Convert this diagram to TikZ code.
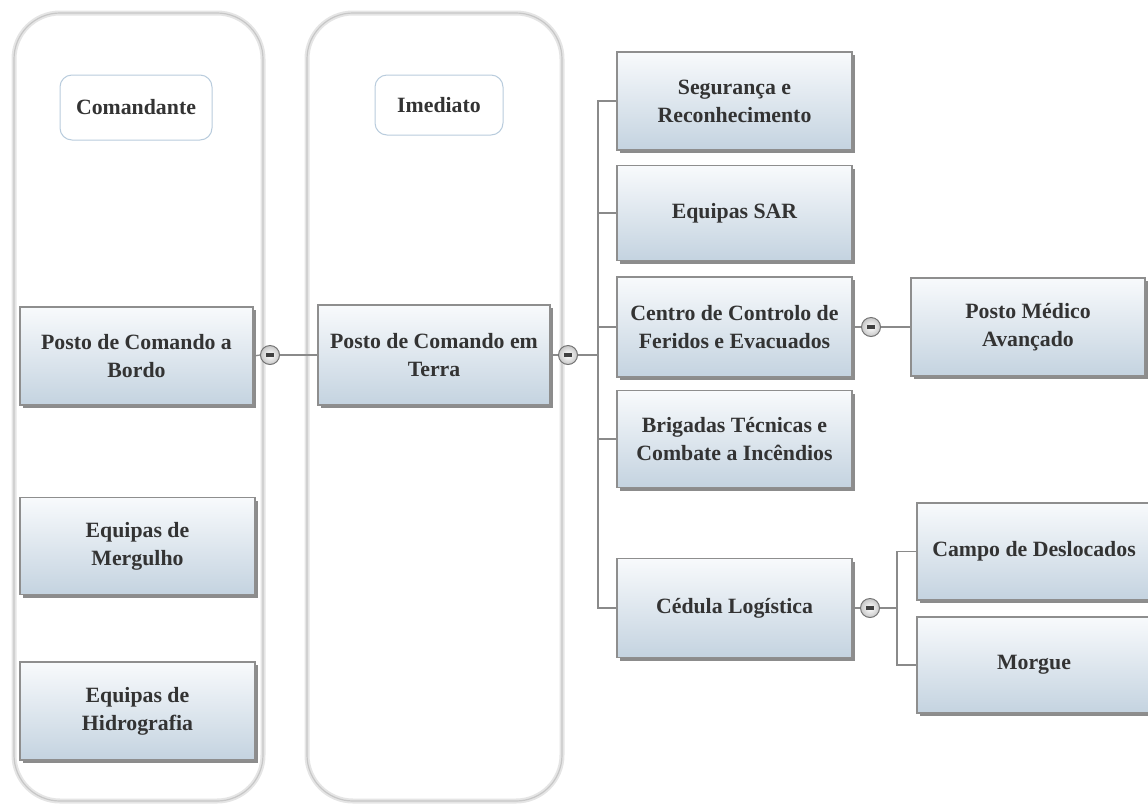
\documentclass[tikz,border=0pt]{standalone}
\usepackage{fontspec}
\setmainfont{Liberation Serif}
\usetikzlibrary{shadows}
\definecolor{txt}{HTML}{333333}
\definecolor{boxtop}{HTML}{F8FAFC}
\definecolor{boxbot}{HTML}{C4D3E0}
\definecolor{boxline}{HTML}{8E8E8E}
\definecolor{conline}{HTML}{8A8A8A}
\definecolor{lblline}{HTML}{B9CCDD}
\tikzset{
  orgbox/.style={draw=boxline, line width=1.2pt, top color=boxtop, bottom color=boxbot,
    minimum width=#1, align=center, text=txt, inner sep=2pt,
    font=\fontsize{21.8}{28}\selectfont\bfseries,
    drop shadow={shadow xshift=2.5pt, shadow yshift=-3pt, opacity=0.6, fill=black!75}},
  orgbox/.default=235pt,
  lblbox/.style={draw=lblline, line width=1pt, fill=white, rounded corners=12pt,
    align=center, text=txt, font=\fontsize{21.8}{28}\selectfont\bfseries},
  minus/.style={circle, draw=black!55, line width=1pt, inner color=white, outer color=black!22,
    minimum size=19pt, inner sep=0pt},
  bar/.style={line width=3.2pt, draw=black!75},
  conn/.style={draw=conline, line width=1.3pt},
  lane/.style={rounded corners=46pt, fill=white}
}
\begin{document}
\begin{tikzpicture}[x=1pt, y=-1pt]
\useasboundingbox (0,0) rectangle (1148,804);
% swimlanes
\foreach \xa/\xb in {14/263, 307/562}{
  \draw[lane, draw=black!10, line width=5pt] (\xa,13) rectangle (\xb,801);
  \draw[rounded corners=46pt, draw=black!22, line width=1.2pt] (\xa,13) rectangle (\xb,801);
}
\node[lblbox, minimum width=152pt, minimum height=65pt] (com) at (136,107.5) {Comandante};
\node[lblbox, minimum width=128pt, minimum height=60pt] (imed) at (439,105) {Imediato};

\coordinate (bus) at (598,355);
\coordinate (bus2) at (897,608);

\node[minus] (m1) at (270,355) {};
\node[minus] (m2) at (568,355) {};
\node[minus] (m3) at (871,327) {};
\node[minus] (m4) at (870,608) {};

\node[orgbox=233pt, minimum height=98pt] (bordo) at (136.5,356) {Posto de Comando a\\Bordo};
\node[orgbox=232pt, minimum height=100pt] (terra) at (434,355) {Posto de Comando em\\Terra};
\node[orgbox=235pt, minimum height=97pt] (merg) at (137.5,546) {Equipas de\\Mergulho};
\node[orgbox=235pt, minimum height=98pt] (hidro) at (137.5,711) {Equipas de\\Hidrografia};

\node[orgbox, minimum height=98pt] (seg) at (734.5,101) {Segurança e\\Reconhecimento};
\node[orgbox, minimum height=95pt] (sar) at (734.5,213) {Equipas SAR};
\node[orgbox, minimum height=100pt] (centro) at (734.5,327) {Centro de Controlo de\\Feridos e Evacuados};
\node[orgbox, minimum height=97pt] (brig) at (734.5,439) {Brigadas Técnicas e\\Combate a Incêndios};
\node[orgbox, minimum height=99pt] (ced) at (734.5,608) {Cédula Logística};

\node[orgbox=234pt, minimum height=98pt] (pma) at (1028,327) {Posto Médico\\Avançado};
\node[orgbox=234pt, minimum height=97pt] (campo) at (1034,551.5) {Campo de Deslocados};
\node[orgbox=234pt, minimum height=96pt] (morgue) at (1034,665) {Morgue};

\draw[conn] (bordo.east) -- (m1.west);
\draw[conn] (m1.east) -- (terra.west);
\draw[conn] (terra.east) -- (m2.west);
\draw[conn] (m2.east) -- (bus);
\draw[conn] (seg.west) -| (bus) |- (ced.west);
\draw[conn] (sar.west) -- (sar.west -| bus);
\draw[conn] (centro.west) -- (centro.west -| bus);
\draw[conn] (brig.west) -- (brig.west -| bus);
\draw[conn] (centro.east) -- (m3.west);
\draw[conn] (m3.east) -- (pma.west);
\draw[conn] (ced.east) -- (m4.west);
\draw[conn] (m4.east) -- (bus2);
\draw[conn] (campo.west) -| (bus2) |- (morgue.west);

\foreach \m in {m1,m2,m3,m4}{
  \draw[bar] ([xshift=-4pt]\m.center) -- ([xshift=4pt]\m.center);
}
\end{tikzpicture}
\end{document}
